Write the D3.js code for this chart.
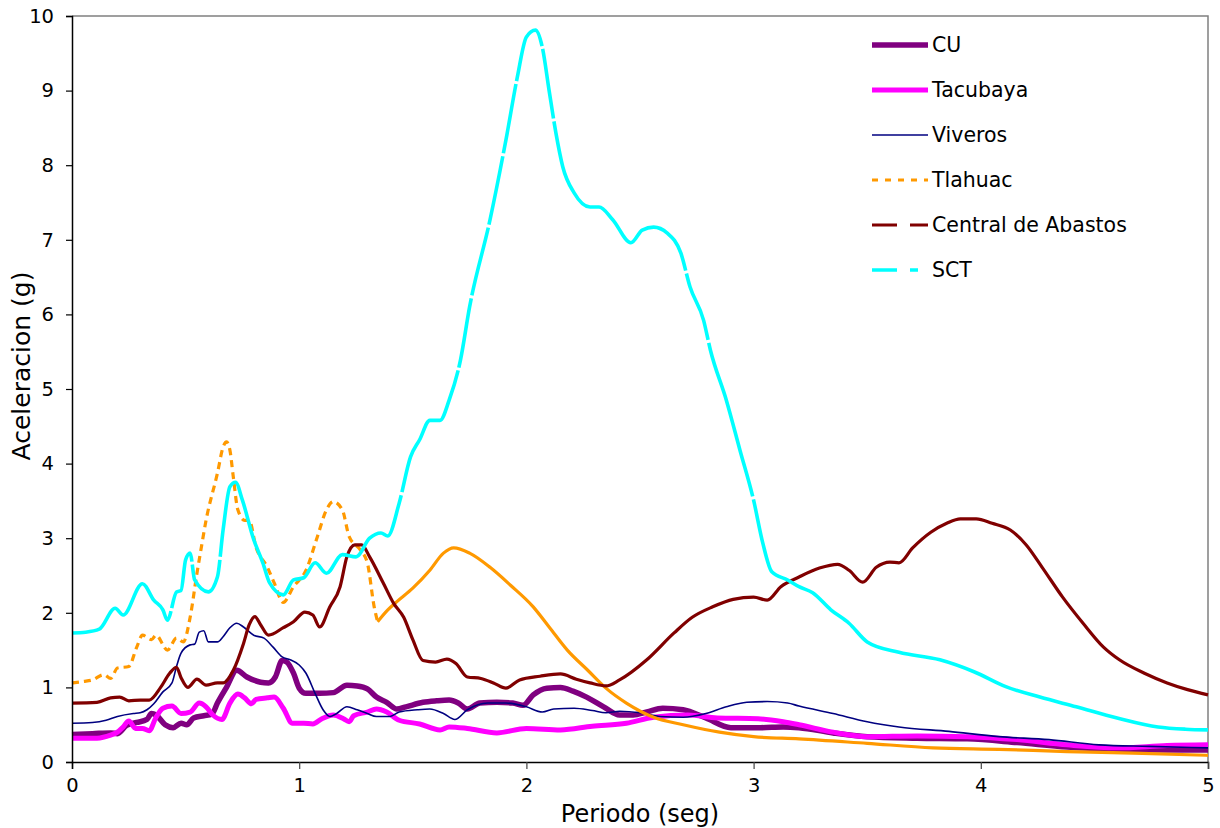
<!DOCTYPE html>
<html>
<head>
<meta charset="utf-8">
<script src="https://cdn.jsdelivr.net/npm/d3@7"></script>
<style>
  body { margin: 0; background: #fff; }
  text { font-family: "DejaVu Sans", sans-serif; fill: #000; }
</style>
</head>
<body>
<div id="viz-wrapper"></div>
<script>
let width = 1220,
    height = 828;

let plot = { left: 72, right: 1208, top: 16, bottom: 762 };

// Tick values
let xTicks = [0, 1, 2, 3, 4, 5];
let yTicks = [0, 1, 2, 3, 4, 5, 6, 7, 8, 9, 10];

// Series data: [periodo, aceleracion]
let cuData = [[0,0.37],[0.09,0.38],[0.17,0.39],[0.2,0.38],[0.24,0.49],[0.285,0.53],[0.33,0.57],[0.35,0.65],[0.37,0.63],[0.41,0.5],[0.445,0.46],[0.48,0.52],[0.505,0.5],[0.535,0.59],[0.58,0.62],[0.615,0.64],[0.64,0.79],[0.68,1.0],[0.725,1.23],[0.77,1.14],[0.83,1.07],[0.865,1.06],[0.895,1.14],[0.925,1.36],[0.945,1.34],[0.975,1.19],[1.0,0.99],[1.03,0.92],[1.09,0.92],[1.15,0.93],[1.21,1.03],[1.255,1.02],[1.3,0.98],[1.34,0.87],[1.385,0.8],[1.43,0.71],[1.47,0.74],[1.545,0.8],[1.605,0.82],[1.66,0.83],[1.7,0.79],[1.74,0.71],[1.795,0.79],[1.87,0.8],[1.94,0.79],[1.985,0.76],[2.03,0.9],[2.09,0.99],[2.15,1.0],[2.205,0.95],[2.265,0.87],[2.34,0.74],[2.41,0.63],[2.47,0.63],[2.53,0.67],[2.6,0.72],[2.69,0.7],[2.79,0.59],[2.9,0.46],[3.03,0.46],[3.13,0.47],[3.2,0.46],[3.35,0.39],[3.5,0.34],[3.72,0.32],[3.94,0.31],[4.16,0.26],[4.38,0.2],[4.6,0.17],[4.82,0.16],[5,0.16]];

let tacubayaData = [[0,0.32],[0.11,0.32],[0.17,0.36],[0.2,0.4],[0.225,0.47],[0.25,0.55],[0.28,0.45],[0.31,0.45],[0.34,0.42],[0.37,0.6],[0.4,0.72],[0.44,0.75],[0.48,0.65],[0.52,0.67],[0.56,0.79],[0.59,0.74],[0.62,0.63],[0.66,0.57],[0.695,0.79],[0.73,0.91],[0.76,0.86],[0.79,0.78],[0.81,0.84],[0.86,0.86],[0.89,0.87],[0.93,0.72],[0.97,0.52],[1.02,0.52],[1.06,0.51],[1.1,0.58],[1.15,0.63],[1.195,0.58],[1.22,0.54],[1.24,0.62],[1.3,0.67],[1.34,0.71],[1.385,0.67],[1.44,0.56],[1.53,0.51],[1.62,0.43],[1.66,0.47],[1.74,0.45],[1.87,0.39],[2.0,0.45],[2.15,0.43],[2.29,0.48],[2.44,0.52],[2.56,0.6],[2.71,0.63],[2.84,0.59],[3.02,0.58],[3.13,0.54],[3.2,0.5],[3.35,0.4],[3.5,0.34],[3.72,0.35],[3.94,0.34],[4.16,0.3],[4.38,0.23],[4.6,0.19],[4.82,0.22],[5,0.23]];

let viverosData = [[0,0.52],[0.09,0.53],[0.15,0.56],[0.2,0.61],[0.27,0.65],[0.3,0.66],[0.33,0.7],[0.36,0.78],[0.4,0.94],[0.44,1.06],[0.46,1.28],[0.48,1.46],[0.52,1.57],[0.54,1.58],[0.56,1.74],[0.58,1.76],[0.6,1.61],[0.64,1.61],[0.665,1.68],[0.695,1.8],[0.725,1.86],[0.755,1.81],[0.8,1.7],[0.845,1.66],[0.885,1.54],[0.925,1.41],[0.96,1.37],[1.0,1.3],[1.03,1.19],[1.07,0.92],[1.105,0.7],[1.135,0.61],[1.165,0.65],[1.21,0.74],[1.255,0.7],[1.3,0.65],[1.34,0.61],[1.4,0.61],[1.44,0.67],[1.52,0.7],[1.575,0.71],[1.635,0.65],[1.685,0.57],[1.74,0.7],[1.83,0.79],[1.91,0.79],[2.0,0.74],[2.07,0.67],[2.12,0.71],[2.21,0.72],[2.29,0.69],[2.35,0.66],[2.41,0.68],[2.5,0.66],[2.59,0.61],[2.69,0.6],[2.79,0.65],[2.88,0.74],[2.97,0.8],[3.06,0.81],[3.15,0.79],[3.2,0.75],[3.35,0.65],[3.5,0.54],[3.64,0.47],[3.86,0.41],[4.08,0.34],[4.3,0.3],[4.52,0.23],[4.74,0.21],[5,0.19]];

let tlahuacData = [[0,1.06],[0.05,1.08],[0.09,1.1],[0.14,1.17],[0.17,1.12],[0.2,1.26],[0.25,1.28],[0.285,1.54],[0.31,1.7],[0.35,1.64],[0.37,1.7],[0.42,1.5],[0.46,1.66],[0.49,1.61],[0.52,1.94],[0.55,2.53],[0.565,2.8],[0.59,3.24],[0.64,3.87],[0.665,4.22],[0.68,4.29],[0.695,4.18],[0.71,3.82],[0.73,3.38],[0.76,3.24],[0.78,3.24],[0.81,2.88],[0.86,2.61],[0.89,2.4],[0.93,2.14],[0.975,2.35],[1.03,2.57],[1.08,3.02],[1.12,3.38],[1.15,3.49],[1.19,3.38],[1.22,3.02],[1.27,2.84],[1.3,2.67],[1.33,2.08],[1.345,1.88],[1.39,2.04],[1.43,2.15],[1.5,2.33],[1.575,2.57],[1.635,2.8],[1.68,2.87],[1.75,2.8],[1.84,2.61],[1.93,2.37],[2.03,2.08],[2.1,1.81],[2.18,1.5],[2.27,1.23],[2.35,0.99],[2.44,0.79],[2.56,0.6],[2.69,0.5],[2.85,0.4],[3.0,0.34],[3.2,0.31],[3.5,0.25],[3.79,0.19],[4.08,0.17],[4.38,0.14],[4.67,0.12],[5,0.09]];

let centralData = [[0,0.79],[0.11,0.8],[0.17,0.86],[0.21,0.87],[0.25,0.82],[0.3,0.83],[0.34,0.83],[0.39,1.0],[0.43,1.19],[0.46,1.27],[0.48,1.13],[0.51,1.0],[0.55,1.11],[0.59,1.03],[0.64,1.06],[0.665,1.06],[0.71,1.23],[0.755,1.59],[0.78,1.84],[0.805,1.95],[0.83,1.84],[0.865,1.7],[0.93,1.8],[0.975,1.88],[1.025,2.01],[1.06,1.97],[1.09,1.81],[1.135,2.08],[1.18,2.35],[1.21,2.75],[1.245,2.91],[1.275,2.91],[1.31,2.75],[1.37,2.4],[1.415,2.13],[1.46,1.94],[1.5,1.64],[1.545,1.36],[1.6,1.34],[1.65,1.38],[1.69,1.32],[1.74,1.14],[1.8,1.12],[1.855,1.06],[1.91,0.99],[1.97,1.1],[2.06,1.15],[2.15,1.18],[2.22,1.11],[2.28,1.06],[2.35,1.02],[2.41,1.1],[2.53,1.37],[2.65,1.73],[2.73,1.94],[2.82,2.08],[2.91,2.18],[3.0,2.21],[3.06,2.17],[3.12,2.35],[3.2,2.48],[3.29,2.6],[3.37,2.65],[3.42,2.57],[3.48,2.41],[3.54,2.61],[3.6,2.68],[3.64,2.67],[3.7,2.87],[3.78,3.08],[3.85,3.2],[3.91,3.26],[3.98,3.26],[4.05,3.2],[4.13,3.11],[4.2,2.91],[4.27,2.61],[4.36,2.21],[4.45,1.86],[4.54,1.54],[4.61,1.37],[4.72,1.19],[4.82,1.06],[4.91,0.97],[5,0.9]];

let sctData = [[0,1.73],[0.06,1.74],[0.12,1.78],[0.19,2.06],[0.225,1.97],[0.31,2.39],[0.36,2.17],[0.4,2.04],[0.42,1.9],[0.46,2.28],[0.48,2.3],[0.5,2.71],[0.52,2.8],[0.54,2.44],[0.6,2.28],[0.64,2.48],[0.665,3.11],[0.695,3.69],[0.72,3.75],[0.75,3.51],[0.8,2.98],[0.84,2.67],[0.87,2.4],[0.93,2.24],[0.975,2.44],[1.02,2.47],[1.07,2.67],[1.12,2.53],[1.19,2.78],[1.25,2.75],[1.31,3.0],[1.36,3.07],[1.39,3.03],[1.44,3.47],[1.49,4.09],[1.53,4.32],[1.575,4.58],[1.62,4.58],[1.66,4.85],[1.71,5.39],[1.75,6.1],[1.84,7.27],[1.91,8.34],[1.96,9.18],[2.0,9.72],[2.04,9.81],[2.07,9.58],[2.1,9.0],[2.13,8.43],[2.16,7.98],[2.21,7.63],[2.28,7.44],[2.32,7.44],[2.38,7.27],[2.46,6.96],[2.51,7.13],[2.56,7.17],[2.62,7.09],[2.68,6.82],[2.72,6.37],[2.78,5.92],[2.81,5.52],[2.88,4.85],[2.94,4.18],[3.0,3.51],[3.04,2.94],[3.08,2.55],[3.15,2.44],[3.2,2.35],[3.26,2.27],[3.34,2.04],[3.42,1.86],[3.5,1.61],[3.64,1.47],[3.82,1.37],[3.97,1.21],[4.11,1.01],[4.26,0.87],[4.42,0.74],[4.6,0.59],[4.78,0.47],[4.9,0.44],[5,0.43]];

// Tlahuac is drawn dashed up to this period, solid after
let tlahuacDashEnd = 1.345;

let series = [
  { name: 'CU', data: cuData, color: '#800080', width: 5.5, dash: null },
  { name: 'Tacubaya', data: tacubayaData, color: '#ff00ff', width: 5, dash: null },
  { name: 'Viveros', data: viverosData, color: '#000080', width: 1.6, dash: null },
  { name: 'Tlahuac', data: tlahuacData, color: '#ff9900', width: 3.2, dash: '7,5', legendDash: '6,7' },
  { name: 'Central de Abastos', data: centralData, color: '#800000', width: 3.2, dash: null, legendDash: '25,13' },
  { name: 'SCT', data: sctData, color: '#00ffff', width: 3.6, dash: 'steep', legendDash: '25,13,8,13' }
];

let xScale = d3.scaleLinear().domain([0, 5]).range([plot.left, plot.right]);
let yScale = d3.scaleLinear().domain([0, 10]).range([plot.bottom, plot.top]);

let svg = d3.select('#viz-wrapper')
  .append('svg')
  .attr('width', width)
  .attr('height', height);

// plot area border (top and right in gray)
svg.append('path')
  .attr('d', 'M' + plot.left + ',' + plot.top + 'H' + plot.right + 'V' + plot.bottom)
  .style('fill', 'none')
  .style('stroke', '#808080')
  .style('stroke-width', 1.5);

let line = d3.line()
  .x(function(d) { return xScale(d[0]); })
  .y(function(d) { return yScale(d[1]); })
  .curve(d3.curveMonotoneX);

let lines = svg.append('g').attr('class', 'lines');

// Builds a dasharray that only leaves small gaps where the path is very steep,
// the way the long-dash style shows up on dense data
function steepDash(node) {
  let total = node.getTotalLength();
  let parts = [];
  let run = 0;
  let prev = node.getPointAtLength(0);
  for (let l = 1; l <= total; l += 1) {
    let p = node.getPointAtLength(l);
    let steep = Math.abs(p.y - prev.y) > 4 * Math.abs(p.x - prev.x);
    run += 1;
    if (steep && run >= 70) {
      parts.push(run, 3);
      l += 3;
      run = 0;
      p = node.getPointAtLength(l);
    }
    prev = p;
  }
  parts.push(run + 10, 0);
  return parts.join(',');
}

series.forEach(function(s) {
  if (s.dash === 'steep') {
    let path = lines.append('path')
      .attr('d', line(s.data))
      .style('fill', 'none')
      .style('stroke', s.color)
      .style('stroke-width', s.width)
      .style('stroke-linejoin', 'round');
    path.style('stroke-dasharray', steepDash(path.node()));
  } else if (s.dash) {
    let first = s.data.filter(function(d) { return d[0] <= tlahuacDashEnd; });
    let rest = s.data.filter(function(d) { return d[0] >= tlahuacDashEnd; });
    lines.append('path')
      .attr('d', line(first))
      .style('fill', 'none')
      .style('stroke', s.color)
      .style('stroke-width', s.width)
      .style('stroke-dasharray', s.dash);
    lines.append('path')
      .attr('d', line(rest))
      .style('fill', 'none')
      .style('stroke', s.color)
      .style('stroke-width', s.width);
  } else {
    lines.append('path')
      .attr('d', line(s.data))
      .style('fill', 'none')
      .style('stroke', s.color)
      .style('stroke-width', s.width)
      .style('stroke-linejoin', 'round');
  }
});

// Axes
let xAxis = d3.axisBottom(xScale).tickValues(xTicks).tickSize(7).tickPadding(9).tickFormat(d3.format('d'));
let yAxis = d3.axisLeft(yScale).tickValues(yTicks).tickSize(6).tickPadding(12).tickFormat(d3.format('d'));

let gx = svg.append('g')
  .attr('transform', 'translate(0,' + plot.bottom + ')')
  .call(xAxis);
let gy = svg.append('g')
  .attr('transform', 'translate(' + plot.left + ',0)')
  .call(yAxis);

[gx, gy].forEach(function(g) {
  g.select('.domain').style('stroke', '#000').style('stroke-width', 1.5);
  g.selectAll('.tick line').style('stroke', '#000').style('stroke-width', 1.2);
  g.selectAll('.tick text')
    .style('font-family', '"DejaVu Sans", sans-serif')
    .style('font-size', '19.5px')
    .style('fill', '#000');
});
gx.selectAll('.tick line').filter(function(d) { return d > 0; }).style('stroke', '#444');

// Axis titles
svg.append('text')
  .attr('x', (plot.left + plot.right) / 2)
  .attr('y', 822)
  .attr('text-anchor', 'middle')
  .style('font-size', '24px')
  .text('Periodo (seg)');

svg.append('text')
  .attr('transform', 'translate(30,' + 366 + ') rotate(-90)')
  .attr('text-anchor', 'middle')
  .style('font-size', '25px')
  .text('Aceleracion (g)');

// Legend
let legend = svg.append('g').attr('transform', 'translate(870,45)');
series.forEach(function(s, i) {
  let row = legend.append('g').attr('transform', 'translate(0,' + (i * 45) + ')');
  row.append('line')
    .attr('x1', 2).attr('x2', 58)
    .attr('y1', 0).attr('y2', 0)
    .style('stroke', s.color)
    .style('stroke-width', s.width)
    .style('stroke-dasharray', s.legendDash || null);
  row.append('text')
    .attr('x', 62)
    .attr('y', 0)
    .attr('dy', '0.36em')
    .style('font-size', '20.5px')
    .text(s.name);
});
</script>
</body>
</html>
